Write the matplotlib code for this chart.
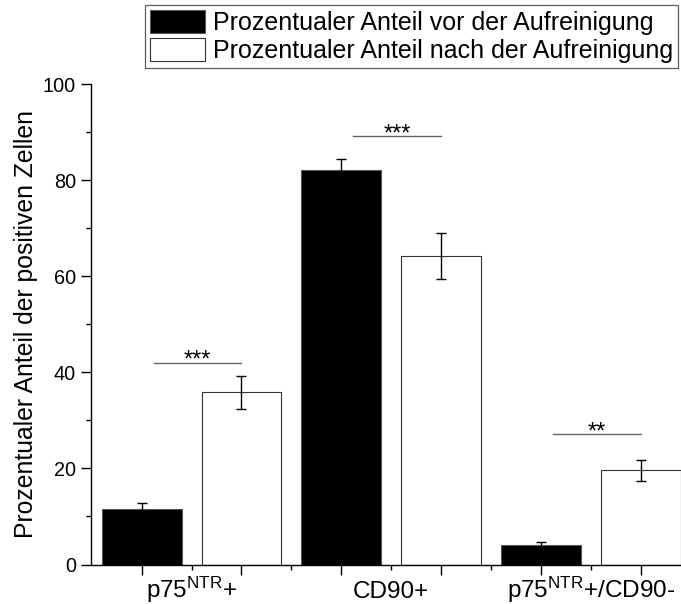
import matplotlib
matplotlib.use("Agg")
import matplotlib.pyplot as plt
from matplotlib.patches import Patch
import matplotlib.transforms as mtransforms
import numpy as np

plt.rcParams['font.family'] = ['Liberation Sans', 'DejaVu Sans']
plt.rcParams['mathtext.fontset'] = 'custom'
plt.rcParams['mathtext.rm'] = 'Liberation Sans'
plt.rcParams['mathtext.it'] = 'Liberation Sans'
plt.rcParams['mathtext.bf'] = 'Liberation Sans'
plt.rcParams['mathtext.default'] = 'regular'

categories = [r'p75$^{NTR}$+', 'CD90+', r'p75$^{NTR}$+/CD90-']
before = [11.6, 82.0, 4.15]
before_err = [1.1, 2.3, 0.55]
after = [35.8, 64.2, 19.6]
after_err = [3.5, 4.85, 2.2]
sig_labels = ['***', '***', '**']
sig_heights = [42.0, 89.2, 27.1]
legend_labels = ['Prozentualer Anteil vor der Aufreinigung',
                 'Prozentualer Anteil nach der Aufreinigung']
ylabel = 'Prozentualer Anteil der positiven Zellen'

W, H = 681, 604
fig = plt.figure(figsize=(W / 100, H / 100), dpi=100)
ax = fig.add_axes([91.5 / W, (H - 564.5) / H, (W - 91.5) / W, (564.5 - 84) / H])

n = len(categories)
x_before = np.arange(n) * 2 + 1.0
x_after = x_before + 1.0
bw = 0.8

ax.bar(x_before, before, width=bw, color='black', edgecolor='#555555', linewidth=0.8, zorder=2)
ax.bar(x_after, after, width=bw, color='white', edgecolor='#333333', linewidth=0.8, zorder=2)
ax.errorbar(x_before, before, yerr=before_err, fmt='none', ecolor='black', elinewidth=1.0,
            capsize=3.5, capthick=1.0, zorder=3)
ax.errorbar(x_after, after, yerr=after_err, fmt='none', ecolor='black', elinewidth=1.0,
            capsize=3.5, capthick=1.0, zorder=3)

for xb, xa, h, s in zip(x_before, x_after, sig_heights, sig_labels):
    x0 = xb + 0.12
    x1 = xa
    ax.plot([x0, x1], [h, h], color='#666666', linewidth=1.0, zorder=3)
    ax.annotate(s, xy=((x0 + x1) / 2, h), xytext=(0, -3), textcoords='offset points',
                ha='center', va='baseline', fontsize=17)

ax.set_xlim(0.497, 6.404)
ax.set_ylim(0, 100)
ax.spines['top'].set_visible(False)
ax.spines['right'].set_visible(False)
for sp in ['left', 'bottom']:
    ax.spines[sp].set_linewidth(1.0)

ax.set_yticks(np.arange(0, 101, 20))
ax.set_yticks(np.arange(10, 100, 20), minor=True)
ax.tick_params(axis='y', which='major', length=7.2, width=1.0, labelsize=14.3, pad=4)
ax.tick_params(axis='y', which='minor', length=3.4, width=1.0)

ax.set_xticks(np.concatenate([x_before, x_after]))
ax.set_xticklabels([''] * (2 * n))
mid = (x_before + x_after) / 2
minor_pos = np.arange(1.5, 2 * n, 1.0)
ax.set_xticks(minor_pos, minor=True)
ax.set_xticklabels([''] * len(minor_pos), minor=True)
ax.tick_params(axis='x', which='major', length=7.2, width=1.0)
ax.tick_params(axis='x', which='minor', length=3.6, width=1.0)

trans = mtransforms.blended_transform_factory(ax.transData, ax.transAxes)
label_y = -33.0 / (564.5 - 84)
for m, c in zip(mid, categories):
    ax.text(m, label_y, c, transform=trans, ha='center', va='baseline', fontsize=17.5,
            clip_on=False)

ax.set_ylabel(ylabel, fontsize=17.8)
ax.yaxis.set_label_coords(-0.0908, 0.5)

handles = [Patch(facecolor='black', edgecolor='#555555', linewidth=0.8),
           Patch(facecolor='white', edgecolor='#333333', linewidth=0.8)]
leg = fig.legend(handles, legend_labels, loc='upper right',
                 bbox_to_anchor=(678 / W, 1 - 4.7 / H), fontsize=18,
                 frameon=True, fancybox=False, shadow=False, borderpad=0.2,
                 handlelength=2.2, handleheight=1.05, handletextpad=0.33,
                 labelspacing=0.12, borderaxespad=0)
leg.get_frame().set_edgecolor('#333333')
leg.get_frame().set_linewidth(0.9)

fig.savefig('out.png', dpi=100)
